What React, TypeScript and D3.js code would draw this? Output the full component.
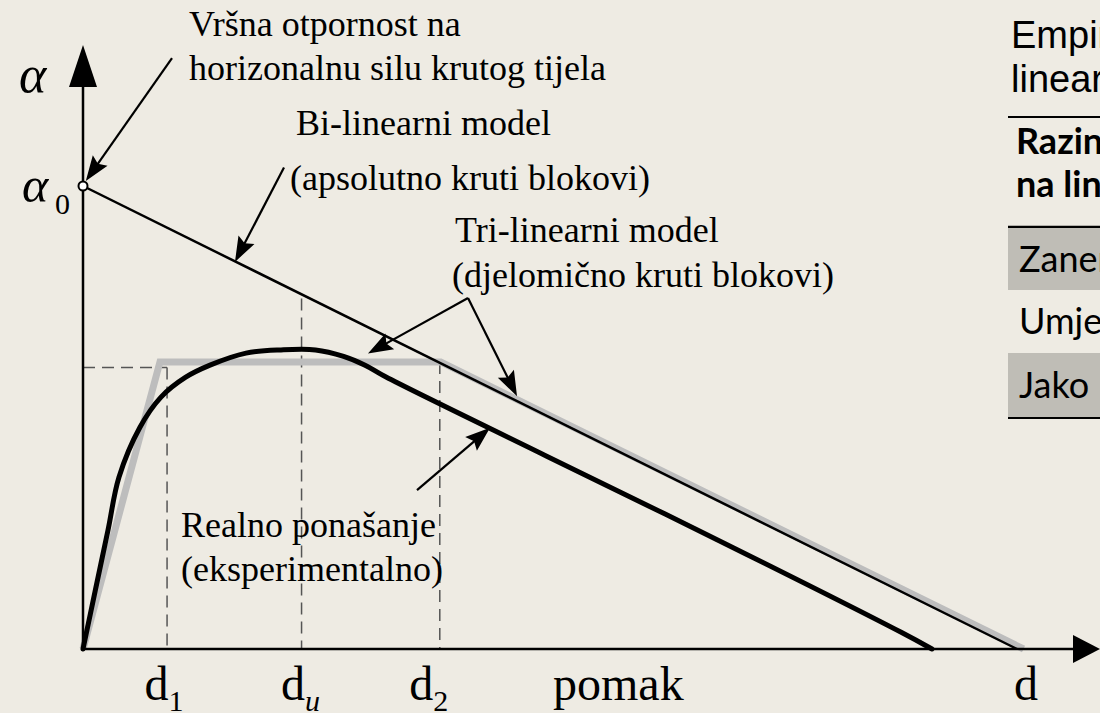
import React from "react";
import * as d3 from "d3";

const W = 1100;
const H = 713;

// Normalised units: alpha0 = 1, the rigid bi-linear model collapses at d = 10.
const bilinear: [number, number][] = [[0, 1], [10, 0]];
const trilinear: [number, number][] = [[0, 0], [0.824, 0.62], [3.83, 0.62], [10.07, 0]];
const experimental: [number, number][] = [
  [0, 0], [0.13, 0.125], [0.268, 0.257], [0.385, 0.371], [0.61, 0.479], [0.835, 0.544],
  [1.1, 0.587], [1.36, 0.613], [1.745, 0.639], [2.12, 0.646], [2.49, 0.646],
  [2.79, 0.632], [3.02, 0.613], [3.24, 0.588], [4.97, 0.416], [6.87, 0.228],
  [8.76, 0.036], [9.09, 0],
];
const tickNames = ["d", "d", "d"];
const tickSubs = ["1", "u", "2"];
const tickValues = [0.9, 2.34, 3.82];
const yieldLevel = 0.608;
const duTop = 0.757;

const tableTitle = ["Empirijske vrijednosti", "linearnog modela"];
const tableHeader = ["Razina oštećenja", "na linearnom dijelu"];
const tableRows = ["Zanemarivo", "Umjereno", "Jako\u00A0\u00A0\u00A0\u00A0oštećeno"];

// annotation arrows: [startD, startA, tipD, tipA]
const arrows: [number, number, number, number][] = [
  [0.953, 1.276, 0.03, 1.011],
  [2.152, 1.04, 1.627, 0.836],
  [4.122, 0.758, 3.051, 0.638],
  [4.122, 0.758, 4.647, 0.546],
  [3.576, 0.343, 4.358, 0.478],
];

const x = d3.scaleLinear().domain([0, 10]).range([83, 1017]);
const y = d3.scaleLinear().domain([0, 1]).range([649, 186]);

const straight = d3.line<[number, number]>().x((d) => x(d[0])).y((d) => y(d[1]));
const smooth = d3
  .line<[number, number]>()
  .x((d) => x(d[0]))
  .y((d) => y(d[1]))
  .curve(d3.curveCatmullRom.alpha(0.5));

const SERIF = "'Liberation Serif', 'Times New Roman', serif";
const SANS = "'Liberation Sans', Arial, sans-serif";
const CAL = "Lato, 'Open Sans', sans-serif";
const BG = "#EEEBE3";
const ROW = "#BFBDB6";
const labelShift = [-3, -1, -11];

function Arrow({ a }: { a: [number, number, number, number] }) {
  const x1 = x(a[0]), y1 = y(a[1]), x2 = x(a[2]), y2 = y(a[3]);
  const dx = x2 - x1, dy = y2 - y1;
  const len = Math.hypot(dx, dy);
  const ux = dx / len, uy = dy / len;
  const hl = 25, hw = 9;
  const bx = x2 - ux * hl, by = y2 - uy * hl;
  const pts = [
    [x2, y2],
    [bx - uy * hw, by + ux * hw],
    [bx + ux * 4, by + uy * 4],
    [bx + uy * hw, by - ux * hw],
  ];
  return (
    <g>
      <line x1={x1} y1={y1} x2={bx + ux * 6} y2={by + uy * 6} stroke="#000" strokeWidth={2.2} />
      <polygon points={pts.map((p) => p.join(",")).join(" ")} fill="#000" />
    </g>
  );
}

export default function App() {
  const ox = x(0), oy = y(0);
  return (
    <svg
      width={W}
      height={H}
      viewBox={`0 0 ${W} ${H}`}
      style={{ position: "absolute", left: 0, top: 0, display: "block" }}
    >
      <rect x={0} y={0} width={W} height={H} fill={BG} />

      {/* dashed guides */}
      <g stroke="#555" strokeWidth={1.5} strokeDasharray="12 7" fill="none">
        <line x1={ox} y1={y(yieldLevel)} x2={x(tickValues[0])} y2={y(yieldLevel)} />
        <line x1={x(tickValues[0])} y1={y(yieldLevel)} x2={x(tickValues[0])} y2={oy} />
        <line x1={x(tickValues[1])} y1={y(duTop)} x2={x(tickValues[1])} y2={oy} />
        <line x1={x(tickValues[2])} y1={y(0.62)} x2={x(tickValues[2])} y2={oy} />
      </g>

      {/* tri-linear model */}
      <path d={straight(trilinear) ?? ""} fill="none" stroke="#BDBDBD" strokeWidth={7} strokeLinejoin="miter" />
      {/* bi-linear model */}
      <path d={straight(bilinear) ?? ""} fill="none" stroke="#000" strokeWidth={2.5} />
      {/* experimental behaviour */}
      <path d={smooth(experimental) ?? ""} fill="none" stroke="#000" strokeWidth={5} strokeLinecap="round" />

      {/* axes */}
      <line x1={ox} y1={oy} x2={ox} y2={80} stroke="#000" strokeWidth={2.5} />
      <polygon points={`${ox},45 ${ox - 14},87 ${ox + 14},87`} fill="#000" />
      <line x1={ox} y1={oy} x2={1080} y2={oy} stroke="#000" strokeWidth={2.5} />
      <polygon points={`1100,${oy} 1073,${oy - 14} 1073,${oy + 14}`} fill="#000" />

      {/* alpha0 marker */}
      <circle cx={x(0)} cy={y(1)} r={4.5} fill="#fff" stroke="#000" strokeWidth={2} />

      {arrows.map((a, i) => (
        <Arrow key={i} a={a} />
      ))}

      {/* axis labels */}
      <text x={19} y={92} fontFamily={SERIF} fontStyle="italic" fontSize={52}>α</text>
      <text x={22} y={202} fontFamily={SERIF} fontStyle="italic" fontSize={50}>α</text>
      <text x={55} y={214} fontFamily={SERIF} fontSize={30}>0</text>

      {tickValues.map((v, i) => (
        <text key={i} x={x(v) + labelShift[i]} y={700} fontFamily={SERIF} fontSize={48} textAnchor="middle">
          {tickNames[i]}
          <tspan fontSize={30} dy={11} fontStyle={tickSubs[i] === "u" ? "italic" : "normal"}>
            {tickSubs[i]}
          </tspan>
        </text>
      ))}
      <text x={553} y={700} fontFamily={SERIF} fontSize={48}>pomak</text>
      <text x={1014} y={700} fontFamily={SERIF} fontSize={48}>d</text>

      {/* annotations */}
      <g fontFamily={SERIF} fontSize={36} fill="#000">
        <text x={189} y={36}>Vršna otpornost na</text>
        <text x={189} y={80}>horizonalnu silu krutog tijela</text>
        <text x={296} y={135}>Bi-linearni model</text>
        <text x={290} y={190}>(apsolutno kruti blokovi)</text>
        <text x={455} y={242}>Tri-linearni model</text>
        <text x={452} y={287}>(djelomično kruti blokovi)</text>
        <text x={181} y={537}>Realno ponašanje</text>
        <text x={181} y={581}>(eksperimentalno)</text>
      </g>

      {/* table */}
      <g>
        <text x={1011} y={48} fontFamily={SANS} fontSize={38}>{tableTitle[0]}</text>
        <text x={1011} y={92} fontFamily={SANS} fontSize={38}>{tableTitle[1]}</text>
        <line x1={1008} y1={117} x2={W} y2={117} stroke="#000" strokeWidth={2} />
        <text x={1016} y={154} fontFamily={CAL} fontWeight={700} fontSize={36}>{tableHeader[0]}</text>
        <text x={1016} y={197} fontFamily={CAL} fontWeight={700} fontSize={36}>{tableHeader[1]}</text>
        <line x1={1008} y1={227} x2={W} y2={227} stroke="#000" strokeWidth={2.5} />
        <rect x={1008} y={228} width={W - 1008} height={62} fill={ROW} />
        <rect x={1008} y={353} width={W - 1008} height={64} fill={ROW} />
        <line x1={1008} y1={418} x2={W} y2={418} stroke="#000" strokeWidth={2} />
        <text x={1019} y={272} fontFamily={CAL} fontSize={36}>{tableRows[0]}</text>
        <text x={1019} y={334} fontFamily={CAL} fontSize={36}>{tableRows[1]}</text>
        <text x={1019} y={398} fontFamily={CAL} fontSize={36}>{tableRows[2]}</text>
      </g>
    </svg>
  );
}
